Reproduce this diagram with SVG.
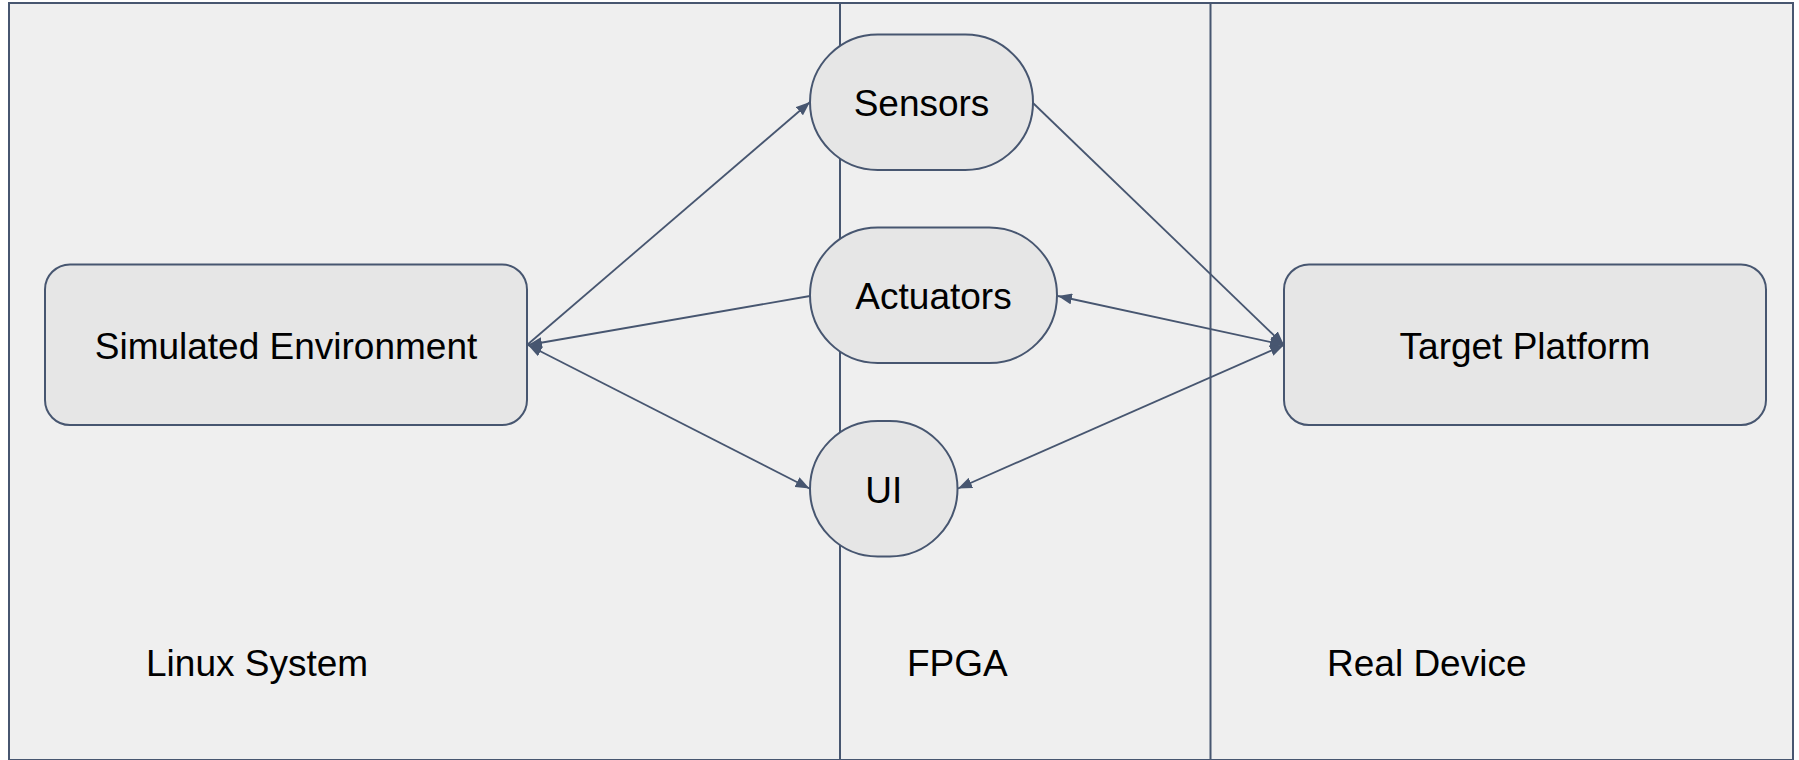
<svg xmlns="http://www.w3.org/2000/svg" width="1799" height="760" viewBox="0 0 1799 760">
  <style>
    .frame { fill: #efefef; stroke: #475670; stroke-width: 2; }
    .divider { stroke: #475670; stroke-width: 2; fill: none; }
    .node { fill: #e6e6e6; stroke: #475670; stroke-width: 2; }
    .edge { stroke: #475670; stroke-width: 1.8; fill: none; }
    .label { font-family: "Liberation Sans", Arial, sans-serif; font-size: 37px; fill: #000; }
    .center { text-anchor: middle; dominant-baseline: central; }
  </style>
  <defs>
    <marker id="arrow" viewBox="0 0 14 11" refX="14" refY="5.5" markerWidth="14" markerHeight="11" markerUnits="userSpaceOnUse" orient="auto-start-reverse">
      <path d="M0,0 L14,5.5 L0,11 z" fill="#475670"/>
    </marker>
  </defs>

  <!-- outer frame and zone dividers -->
  <rect class="frame" x="9" y="3" width="1784" height="757"/>
  <line class="divider" x1="840" y1="3" x2="840" y2="760"/>
  <line class="divider" x1="1210.5" y1="3" x2="1210.5" y2="760"/>

  <!-- zone labels -->
  <text class="label" x="146" y="676">Linux System</text>
  <text class="label" x="907" y="676">FPGA</text>
  <text class="label" x="1327" y="676">Real Device</text>

  <!-- nodes -->
  <g id="simulated-environment">
    <rect class="node" x="45" y="264.5" width="482" height="160.5" rx="25"/>
    <text class="label center" x="286" y="346">Simulated Environment</text>
  </g>
  <g id="target-platform">
    <rect class="node" x="1284" y="264.5" width="482" height="160.5" rx="25"/>
    <text class="label center" x="1525" y="346">Target Platform</text>
  </g>
  <g id="sensors">
    <rect class="node" x="810" y="34.5" width="223" height="135.5" rx="67.75"/>
    <text class="label center" x="921.5" y="103">Sensors</text>
  </g>
  <g id="actuators">
    <rect class="node" x="810" y="227.5" width="247" height="135.5" rx="67.75"/>
    <text class="label center" x="933.5" y="296">Actuators</text>
  </g>
  <g id="ui">
    <rect class="node" x="810" y="421" width="147.5" height="135.5" rx="67.75"/>
    <text class="label center" x="883.75" y="490">UI</text>
  </g>

  <!-- connectors -->
  <g id="connectors">
    <line class="edge" x1="527" y1="345" x2="810" y2="102" marker-end="url(#arrow)"/>
    <line class="edge" x1="810" y1="296" x2="528" y2="345" marker-end="url(#arrow)"/>
    <line class="edge" x1="528" y1="345" x2="809.5" y2="488.5" marker-start="url(#arrow)" marker-end="url(#arrow)"/>
    <line class="edge" x1="1033" y1="103" x2="1284" y2="345" marker-end="url(#arrow)"/>
    <line class="edge" x1="1058" y1="296" x2="1284" y2="345" marker-start="url(#arrow)" marker-end="url(#arrow)"/>
    <line class="edge" x1="958" y1="488.5" x2="1284" y2="345" marker-start="url(#arrow)" marker-end="url(#arrow)"/>
  </g>
</svg>
